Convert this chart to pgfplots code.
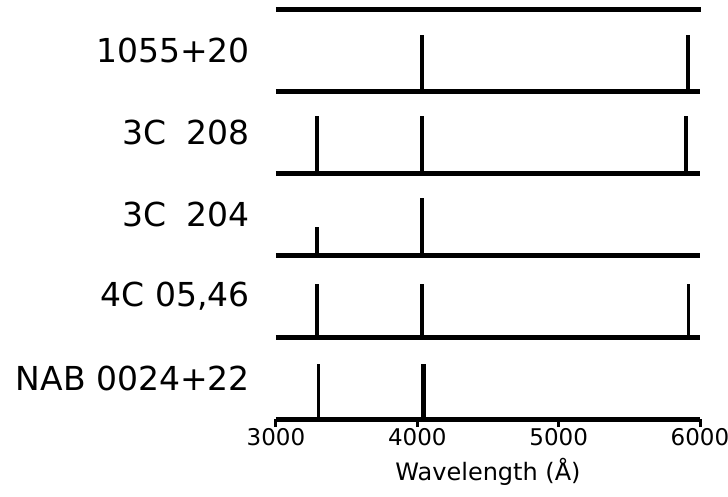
\documentclass[border=0pt]{standalone}
\usepackage{pgfplots}
\pgfplotsset{compat=1.18}
\usepackage{fontspec}
\setmainfont{DejaVu Sans}
\begin{document}
\begin{tikzpicture}
\begin{axis}[
  at={(0,0)}, anchor=south west,
  scale only axis, width=424pt, height=410pt,
  xmin=3000, xmax=6000, ymin=0, ymax=5,
  clip=false,
  axis x line=bottom, axis y line=left,
  axis line style={draw=none},
  xtick={3000,4000,5000,6000},
  xtick style={black, line width=3pt},
  tick align=outside, major tick length=8pt,
  ytick={0.5,1.5,2.5,3.5,4.5},
  yticklabels={NAB 0024+22, 4C 05{,}46, 3C\hspace{20pt}204, 3C\hspace{20pt}208, 1055+20},
  ytick style={draw=none},
  yticklabel style={font=\fontsize{33}{40}\selectfont, anchor=east, inner sep=0pt, xshift=-18pt},
  /pgf/number format/assume math mode=true,
  /pgf/number format/1000 sep={},
  xticklabel style={font=\fontsize{23}{28}\selectfont, inner sep=0pt, anchor=north, yshift=-1pt},
  xlabel={Wavelength (Å)},
  xlabel style={font=\fontsize{24}{28}\selectfont, inner sep=0pt, anchor=north, yshift=-12pt},
  hl/.style={black, line width=5pt, line cap=butt},
  vl/.style={black, line width=3.5pt},
]
% horizontal baselines
\addplot[hl] coordinates {(3000,0) (6000,0)};
\addplot[hl] coordinates {(3000,1) (6000,1)};
\addplot[hl] coordinates {(3000,2) (6000,2)};
\addplot[hl] coordinates {(3000,3) (6000,3)};
\addplot[hl] coordinates {(3000,4) (6000,4)};
\addplot[hl] coordinates {(3000,5) (6010,5)};
% 1055+20
\addplot[vl] coordinates {(4032,4) (4032,4.68)};
\addplot[vl] coordinates {(5916,4) (5916,4.68)};
% 3C 208
\addplot[vl] coordinates {(3290,3) (3290,3.69)};
\addplot[vl] coordinates {(4032,3) (4032,3.69)};
\addplot[vl] coordinates {(5900,3) (5900,3.69)};
% 3C 204
\addplot[vl] coordinates {(3290,2) (3290,2.34)};
\addplot[vl] coordinates {(4032,2) (4032,2.69)};
% 4C 05,46
\addplot[vl] coordinates {(3290,1) (3290,1.65)};
\addplot[vl] coordinates {(4032,1) (4032,1.65)};
\addplot[vl] coordinates {(5918,1) (5918,1.65)};
% NAB 0024+22
\addplot[vl] coordinates {(3300,0) (3300,0.67)};
\addplot[black, line width=5.5pt] coordinates {(4045,0) (4045,0.67)};
\end{axis}
\pgfresetboundingbox
\path (-276pt,-77pt) rectangle (452pt,419pt);
\end{tikzpicture}
\end{document}
